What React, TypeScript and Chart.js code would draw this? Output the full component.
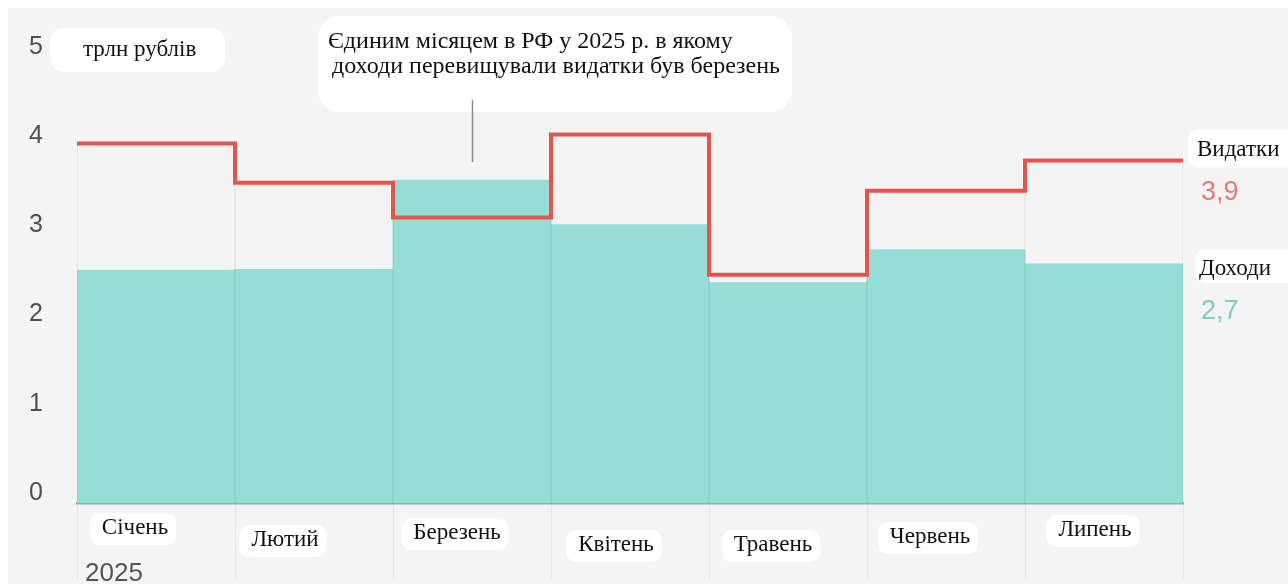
import React, { useEffect, useRef } from "react";
import { Chart, registerables } from "chart.js";

Chart.register(...registerables);

// ---- data ----
const months = ["Січень", "Лютий", "Березень", "Квітень", "Травень", "Червень", "Липень"];
const income = [2.61, 2.62, 3.62, 3.12, 2.47, 2.84, 2.68];
const expenses = [4.03, 3.59, 3.2, 4.13, 2.56, 3.5, 3.84];
const yTicks = [0, 1, 2, 3, 4, 5];
const yearLabel = "2025";
const unitLabel = "трлн рублів";
const noteLines = ["Єдиним місяцем в РФ у 2025 р. в якому", "доходи перевищували видатки був березень"];
const noteMonthIndex = 2;
const seriesNames = ["Видатки", "Доходи"];
const latestValues = ["3,9", "2,7"];

// ---- layout (label placement offsets, not data) ----
const monthDx = [-21, -29, -15, -14, -15, -16, -9];
const monthDy = [25, 37, 30, 42, 42, 34, 27];

const SERIF = '"Liberation Serif", "Times New Roman", serif';
const SANS = '"Liberation Sans", Arial, sans-serif';

const overlayPlugin = {
  id: "overlay",
  afterDraw(chart: any) {
    const ctx: CanvasRenderingContext2D = chart.ctx;
    const xs = chart.scales.x;
    const ys = chart.scales.y;
    const area = chart.chartArea;
    const base = ys.getPixelForValue(0);
    ctx.save();

    const patch = (x: number, y: number, w: number, h: number, r = 8) => {
      ctx.fillStyle = "#ffffff";
      ctx.beginPath();
      (ctx as any).roundRect(x, y, w, h, r);
      ctx.fill();
    };
    const text = (t: string, x: number, y: number, font: string, color: string, align: CanvasTextAlign = "left") => {
      ctx.font = font;
      ctx.fillStyle = color;
      ctx.textAlign = align;
      ctx.textBaseline = "middle";
      ctx.fillText(t, x, y);
    };

    // unit label
    patch(42, 20, 175, 44, 14);
    text(unitLabel, 75, 42, `23px ${SERIF}`, "#111");

    // annotation
    const cx = xs.getPixelForValue(noteMonthIndex);
    patch(cx - 154, 8, 474, 96, 22);
    text(noteLines[0], cx - 144, 34, `24px ${SERIF}`, "#111");
    text(noteLines[1], cx - 140, 59, `24px ${SERIF}`, "#111");
    ctx.strokeStyle = "#8a8a8a";
    ctx.lineWidth = 1.5;
    ctx.beginPath();
    ctx.moveTo(cx + 0.5, 92);
    ctx.lineTo(cx + 0.5, ys.getPixelForValue(income[noteMonthIndex]) - 18);
    ctx.stroke();

    // month labels
    months.forEach((m, i) => {
      const mx = xs.getPixelForValue(i) + monthDx[i];
      const my = base + monthDy[i];
      ctx.font = `23px ${SERIF}`;
      const w = ctx.measureText(m).width;
      patch(mx - w / 2 - 12, my - 15, w + 20, 32, 10);
      text(m, mx, my, `23px ${SERIF}`, "#111", "center");
    });

    // year
    text(yearLabel, area.left + 8, base + 71, `26px ${SANS}`, "#555");

    // right labels
    const last = months.length - 1;
    const ey = ys.getPixelForValue(expenses[last]);
    const iy = ys.getPixelForValue(income[last]);
    patch(area.right + 5, ey - 31, 120, 38, 10);
    text(seriesNames[0], area.right + 14, ey - 11, `23px ${SERIF}`, "#111");
    text(latestValues[0], area.right + 18, ey + 32, `27px ${SANS}`, "#e57b76");
    patch(area.right + 12, iy - 15, 110, 34, 10);
    text(seriesNames[1], area.right + 16, iy + 5, `23px ${SERIF}`, "#111");
    text(latestValues[1], area.right + 18, iy + 48, `27px ${SANS}`, "#7dcdc3");

    ctx.restore();
  },
};

export default function App() {
  const ref = useRef<HTMLCanvasElement | null>(null);

  useEffect(() => {
    if (!ref.current) return;
    const stepData = expenses.map((v, i) => ({ x: i, y: v }));
    stepData.push({ x: expenses.length, y: expenses[expenses.length - 1] });

    const chart = new Chart(ref.current, {
      type: "bar",
      data: {
        labels: months,
        datasets: [
          {
            type: "line",
            label: seriesNames[0],
            data: stepData as any,
            xAxisID: "x2",
            yAxisID: "y",
            stepped: true,
            borderColor: "#e4544a",
            borderWidth: 4,
            pointRadius: 0,
            fill: false,
            borderJoinStyle: "miter",
            borderCapStyle: "butt",
            order: 0,
          } as any,
          {
            type: "bar",
            label: "grid",
            data: expenses,
            xAxisID: "x",
            yAxisID: "y",
            backgroundColor: "rgba(0,0,0,0)",
            borderColor: "rgba(0,0,0,0.045)",
            borderWidth: { left: 0.75, right: 0.75, top: 0, bottom: 0 },
            borderSkipped: false,
            barPercentage: 1,
            categoryPercentage: 1,
            grouped: false,
            order: 1,
          } as any,
          {
            type: "bar",
            label: seriesNames[1],
            data: income,
            xAxisID: "x",
            yAxisID: "y",
            backgroundColor: "#96ddd6",
            borderWidth: 0,
            barPercentage: 1,
            categoryPercentage: 1,
            grouped: false,
            order: 2,
          } as any,
        ],
      },
      options: {
        responsive: false,
        maintainAspectRatio: false,
        animation: false,
        layout: { padding: { left: 0, right: 105, top: 47, bottom: 81 } },
        plugins: { legend: { display: false }, tooltip: { enabled: false } },
        scales: {
          x: {
            type: "category",
            offset: true,
            afterFit: (s: any) => {
              s.height = 0;
            },
            ticks: { display: false },
            grid: {
              display: true,
              offset: true,
              drawOnChartArea: false,
              drawTicks: true,
              tickLength: 76,
              color: "rgba(0,0,0,0.05)",
              lineWidth: 1,
            },
            border: { display: true, color: "#84b3ad", width: 2.5 },
          },
          x2: {
            type: "linear",
            display: false,
            offset: false,
            grid: { offset: false },
            min: 0,
            max: months.length,
          },
          y: {
            type: "linear",
            min: yTicks[0],
            max: yTicks[yTicks.length - 1],
            afterFit: (s: any) => {
              s.width = 69;
            },
            afterBuildTicks: (s: any) => {
              s.ticks = yTicks.map((v) => ({ value: v }));
            },
            grid: { display: false, drawTicks: false },
            border: { display: false },
            ticks: {
              padding: 34,
              labelOffset: -10,
              color: "#4f4f4f",
              font: { family: SANS, size: 25 },
            },
          },
        } as any,
      },
      plugins: [overlayPlugin],
    });
    return () => chart.destroy();
  }, []);

  return (
    <div
      style={{
        position: "absolute",
        left: 8,
        top: 8,
        width: 1280,
        height: 576,
        background: "#f4f4f5",
      }}
    >
      <canvas ref={ref} width={1280} height={576} style={{ display: "block" }} />
    </div>
  );
}
